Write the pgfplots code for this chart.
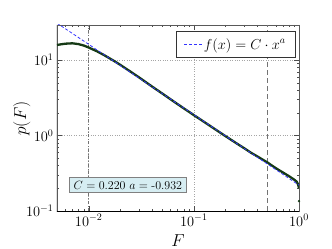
\documentclass[border=0pt]{standalone}
\usepackage{pgfplots}
\pgfplotsset{compat=1.18}
\definecolor{datag}{RGB}{22,58,22}
\definecolor{boxfill}{RGB}{214,237,242}
\begin{document}
\begin{tikzpicture}
\useasboundingbox (-57pt,-38pt) rectangle (275pt,211pt);
\begin{loglogaxis}[
 at={(0,0)}, anchor=south west,
 scale only axis, width=242pt, height=186pt,
 xmin=0.005, xmax=1, ymin=0.1, ymax=29,
 grid=major, major grid style={dotted, gray!70, line width=0.5pt},
 axis line style={gray!70!black, line width=0.8pt},
 tick style={black!70},
 major tick length=5pt, minor tick length=2.5pt,
 tick label style={font=\fontsize{14}{16}\selectfont},
 xlabel={$F$}, ylabel={$p(F)$},
 label style={font=\fontsize{16}{19}\selectfont},
 xlabel style={at={(axis description cs:0.5,-0.16)}, anchor=center},
 ylabel style={at={(axis description cs:-0.145,0.497)}, anchor=center},
 legend style={at={(axis description cs:0.988,0.968)}, anchor=north east,
   draw=black!80, line width=0.8pt, font=\fontsize{14}{16}\selectfont,
   inner xsep=8pt, inner ysep=5pt},
 legend cell align=left,
]
\addplot[black!55, dash dot, line width=0.9pt, forget plot] coordinates {(0.01,0.1) (0.01,29)};
\addplot[black!55, line width=1.2pt, dash pattern=on 5pt off 3pt, forget plot] coordinates {(0.5,0.1) (0.5,29)};
\addplot[datag, line width=2.3pt, forget plot] coordinates {
(0.005,15.8) (0.006,16.4) (0.007,16.6) (0.008,16.2) (0.009,15.5) (0.010,14.6)
(0.012,13.0) (0.014,11.6) (0.017,9.9) (0.020,8.6) (0.025,7.0) (0.03,5.9)
(0.04,4.45) (0.05,3.6) (0.07,2.6) (0.1,1.86) (0.15,1.28) (0.2,0.98)
(0.25,0.80) (0.3,0.68) (0.35,0.59) (0.4,0.53) (0.5,0.44) (0.6,0.37)
(0.7,0.325) (0.8,0.29) (0.9,0.26) (0.95,0.245) (0.98,0.225) (1.0,0.20)
};
\addplot[only marks, mark=*, mark size=1pt, datag, forget plot] coordinates {(1,0.135)};
\addplot[blue!80, line width=0.8pt, dash pattern=on 3pt off 2pt] coordinates {(0.005,30.7) (1,0.22)};
\addlegendentry{$f(x)=C\cdot x^a$\hspace{18pt}}
\draw[black, line width=1pt] (rel axis cs:0,1) -- (rel axis cs:0,0) -- (rel axis cs:1,0);
\node[draw=gray, fill=boxfill, line width=0.8pt, inner xsep=4pt, inner ysep=3.5pt,
  font=\fontsize{12}{14}\selectfont] at (rel axis cs:0.293,0.14) {$C=0.220\ a=\mbox{-}0.932$};
\end{loglogaxis}
\end{tikzpicture}
\end{document}
